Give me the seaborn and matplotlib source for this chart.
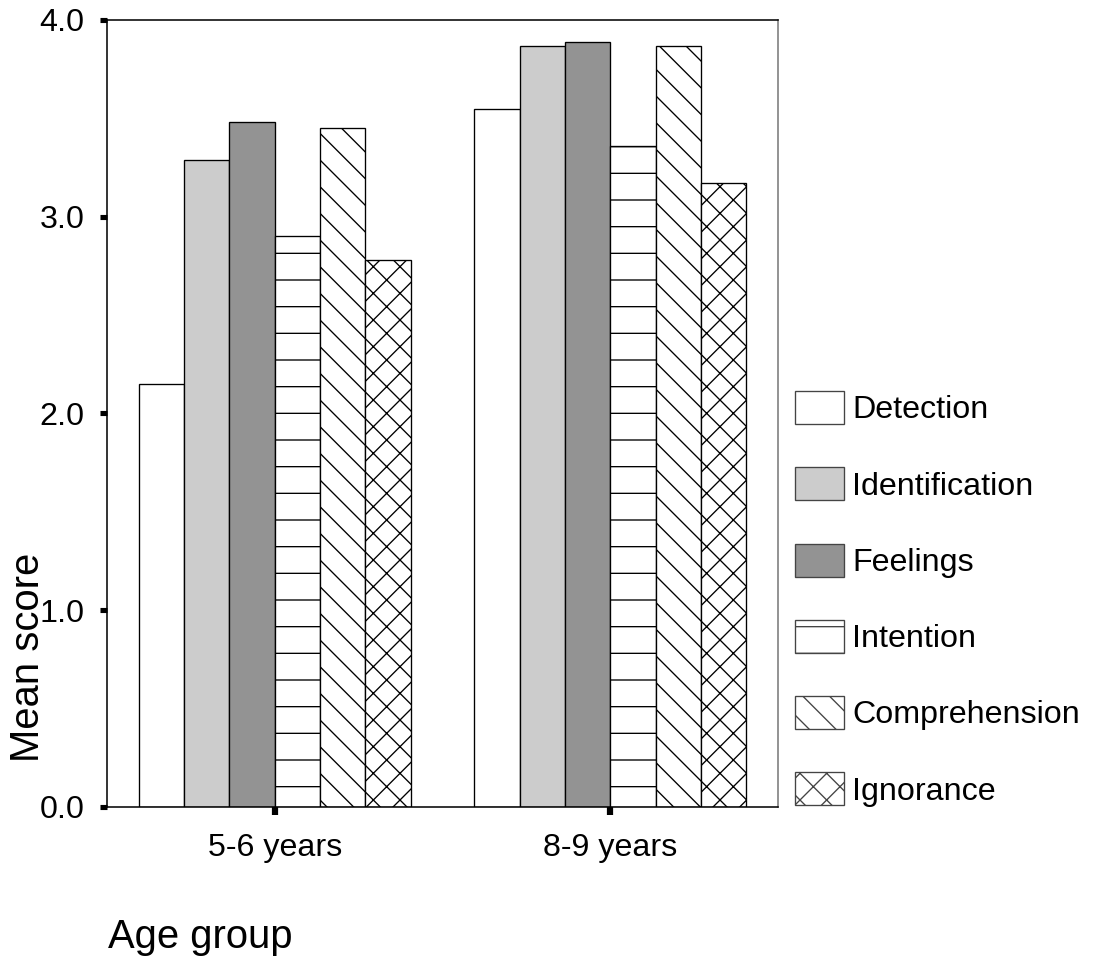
import matplotlib
matplotlib.use("Agg")
import matplotlib.pyplot as plt
from matplotlib.patches import Patch
import numpy as np
import pandas as pd
import seaborn as sns

age_groups = ["5-6 years", "8-9 years"]
measures = ["Detection", "Identification", "Feelings", "Intention", "Comprehension", "Ignorance"]
scores_5_6 = [2.15, 3.29, 3.48, 2.90, 3.45, 2.78]
scores_8_9 = [3.55, 3.87, 3.89, 3.36, 3.87, 3.17]
y_ticks = [0, 1, 2, 3, 4]

fills = ["white", "#cccccc", "#939393", "white", "white", "white"]
hatches = ["", "", "", "-", "\\\\", "xx"]

df = pd.DataFrame({
    "age": np.repeat(age_groups, len(measures)),
    "measure": measures * 2,
    "score": scores_5_6 + scores_8_9,
})

sns.set_theme(style="white")
plt.rcParams["font.family"] = ["Liberation Sans", "DejaVu Sans"]
plt.rcParams["hatch.linewidth"] = 0.6
plt.rcParams["hatch.color"] = "black"

DPI = 160
W, H = 1106, 963
fig = plt.figure(figsize=(W / DPI, H / DPI), dpi=DPI)
ax = fig.add_axes([107 / W, 1 - 807 / H, (778 - 107) / W, (807 - 20) / H])

sns.barplot(data=df, x="age", y="score", hue="measure", hue_order=measures,
            order=age_groups, palette=dict(zip(measures, fills)),
            edgecolor="black", linewidth=0.6, width=0.81, saturation=1,
            errorbar=None, legend=False, ax=ax)

for container, hatch in zip(ax.containers, hatches):
    for bar in container:
        bar.set_hatch(hatch)

ax.set_xlim(-0.5, 1.5)
ax.set_ylim(0, 4)
ax.set_yticks(y_ticks)
ax.set_yticklabels([f"{v:.1f}" for v in y_ticks])
ax.set_xlabel("")
ax.set_ylabel("")
ax.tick_params(axis="y", left=True, direction="out", length=3.2, width=2.3,
               color="black", labelsize=14.5, pad=7, labelcolor="black")
ax.tick_params(axis="x", bottom=True, direction="out", length=3.5, width=2.8,
               color="black", labelsize=14.5, pad=8, labelcolor="black")

for side in ["left", "bottom", "top"]:
    ax.spines[side].set_color("black")
    ax.spines[side].set_linewidth(0.7)
ax.spines["right"].set_color("#777777")
ax.spines["right"].set_linewidth(0.7)

handles = [Patch(facecolor=f, edgecolor="#444444", hatch=h, linewidth=0.6, label=m)
           for m, f, h in zip(measures, fills, hatches)]
fig.legend(handles=handles, loc="upper left", bbox_to_anchor=(795 / W, 1 - 391 / H),
           frameon=False, fontsize=14.5, handlelength=1.52, handleheight=1.2,
           handletextpad=0.25, labelspacing=1.3, borderpad=0, borderaxespad=0,
           labelcolor="black")

fig.text(28 / W, 1 - 657 / H, "Mean score", rotation=90, ha="center", va="center",
         fontsize=18, color="black")
fig.text(108 / W, 1 - 948 / H, "Age group", ha="left", va="baseline",
         fontsize=18, color="black")

fig.savefig("out.png", dpi=DPI)
